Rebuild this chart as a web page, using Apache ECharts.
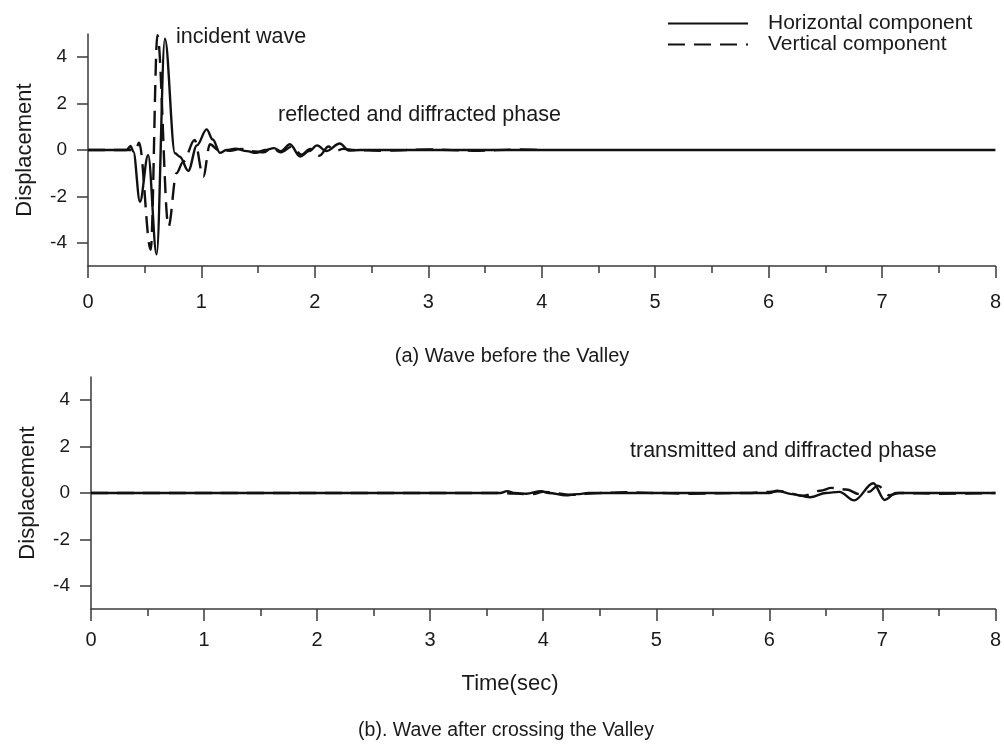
<!DOCTYPE html>
<html>
<head>
<meta charset="utf-8">
<title>Displacement records</title>
<script src="https://cdn.jsdelivr.net/npm/echarts@6/dist/echarts.min.js"></script>
<style>
  html, body { margin: 0; padding: 0; background: #fff; }
  #chart { width: 1004px; height: 747px; }
</style>
</head>
<body>
<div id="chart"></div>
<script>
// (a) record before the valley: horizontal component (solid)
const timeHa = [0, 0.34, 0.376, 0.40, 0.458, 0.53, 0.605, 0.678, 0.767, 0.81, 0.884, 0.96, 1.046, 1.10, 1.163, 1.22, 1.30, 1.40, 1.48, 1.56, 1.64, 1.70, 1.78, 1.87, 1.95, 2.02, 2.10, 2.22, 2.30, 2.40, 8];
const dispHa = [0, 0, 0.17, -0.07, -2.23, -0.22, -4.5, 4.8, -0.14, -0.29, -0.9, 0.2, 0.89, 0.45, -0.12, 0, 0.06, -0.05, -0.12, 0, 0.08, -0.05, 0.25, -0.28, -0.05, 0.2, -0.05, 0.28, -0.02, 0, 0];

// (a) record before the valley: vertical component (dashed)
const timeVa = [0, 0.42, 0.45, 0.553, 0.612, 0.71, 0.78, 0.84, 0.94, 1.016, 1.075, 1.15, 1.25, 1.35, 1.45, 1.55, 1.62, 1.70, 1.80, 1.88, 1.96, 2.04, 2.12, 2.18, 2.25, 2.35, 2.6, 3.0, 3.4, 3.8, 4.0];
const dispVa = [0, 0, 0.32, -4.3, 4.95, -3.3, -1.0, -0.5, 0.43, -1.15, 0.25, 0, -0.03, 0.05, -0.05, -0.1, 0.1, -0.1, 0.15, -0.2, 0.05, -0.25, 0.15, -0.05, 0.05, 0, -0.03, 0.02, -0.03, 0.02, 0];

// (b) record after crossing the valley: horizontal component (solid)
const timeHb = [0, 3.62, 3.68, 3.75, 3.85, 3.98, 4.05, 4.2, 4.3, 4.4, 6.0, 6.07, 6.2, 6.36, 6.5, 6.62, 6.75, 6.92, 7.02, 7.12, 7.3, 8];
const dispHb = [0, 0, 0.08, 0, -0.03, 0.08, 0, -0.1, -0.05, 0, 0, 0.1, -0.05, -0.18, 0, 0.05, -0.32, 0.42, -0.3, 0, 0, 0];

// (b) record after crossing the valley: vertical component (dashed)
const timeVb = [0, 3.6, 3.9, 4.0, 4.25, 4.5, 4.75, 5.0, 5.3, 5.8, 6.0, 6.1, 6.3, 6.45, 6.55, 6.68, 6.8, 6.88, 6.96, 7.06, 7.15, 7.5, 8];
const dispVb = [0, 0, -0.05, 0.05, -0.08, 0, 0.03, 0, -0.03, 0, 0.05, 0.08, -0.12, 0.1, 0.22, 0.15, -0.05, 0.05, 0.32, -0.1, 0, -0.03, 0];

const yTicks = [-4, -2, 0, 2, 4];
const seriesNames = ['Horizontal component', 'Vertical component'];

const FONT = '"Liberation Sans", Arial, sans-serif';
const INK = '#1a1a1a';
const AXIS = '#3a3a3a';

function pairs(ts, vs) {
  return ts.map((t, i) => [t, vs[i]]);
}

function xAxisFor(gridIndex, labelMargin) {
  return {
    type: 'value', gridIndex, min: 0, max: 8, interval: 1,
    axisLine: { show: true, onZero: false, lineStyle: { color: AXIS, width: 1.5 } },
    axisTick: { show: true, length: 12, lineStyle: { color: AXIS, width: 1.5 } },
    minorTick: { show: true, splitNumber: 2, length: 7, lineStyle: { color: AXIS, width: 1.5 } },
    splitLine: { show: false },
    minorSplitLine: { show: false },
    axisLabel: { margin: labelMargin, fontSize: 20, color: INK, fontFamily: FONT }
  };
}

function yAxisFor(gridIndex) {
  return {
    type: 'value', gridIndex, min: -5, max: 5,
    name: 'Displacement', nameLocation: 'middle', nameRotate: 90, nameGap: 52,
    nameTextStyle: { fontSize: 22, color: INK, fontFamily: FONT },
    axisLine: { show: true, onZero: false, lineStyle: { color: AXIS, width: 1.5 } },
    axisTick: { show: true, length: 11, customValues: yTicks, lineStyle: { color: AXIS, width: 1.5 } },
    splitLine: { show: false },
    axisLabel: { margin: 21, fontSize: 19, color: INK, fontFamily: FONT, customValues: yTicks }
  };
}

function lineSeries(name, idx, data, dashed) {
  return {
    name, type: 'line', xAxisIndex: idx, yAxisIndex: idx,
    data, showSymbol: false, symbol: 'none',
    smooth: 0.35, smoothMonotone: 'x',
    lineStyle: { color: '#111', width: 2.4, type: dashed ? [17, 9] : 'solid' },
    itemStyle: { color: '#111' },
    animation: false, silent: true, z: dashed ? 3 : 2
  };
}

const chart = echarts.init(document.getElementById('chart'), null, { renderer: 'canvas' });

chart.setOption({
  backgroundColor: '#ffffff',
  animation: false,
  textStyle: { fontFamily: FONT },
  legend: {
    orient: 'vertical', left: 667, top: 13, padding: 0,
    itemWidth: 80, itemHeight: 14, itemGap: 0,
    // keep the line sample only, hide the marker drawn in its middle
    itemStyle: { opacity: 0, borderWidth: 0 },
    lineStyle: { width: 2 },
    data: seriesNames,
    textStyle: { fontSize: 21, lineHeight: 21, color: INK, fontFamily: FONT, padding: [0, 0, 0, 15] }
  },
  grid: [
    { left: 88, top: 34, width: 908, height: 232 },
    { left: 91, top: 377, width: 908, height: 232 }
  ],
  xAxis: [xAxisFor(0, 26), xAxisFor(1, 21)],
  yAxis: [yAxisFor(0), yAxisFor(1)],
  series: [
    lineSeries(seriesNames[0], 0, pairs(timeHa, dispHa), false),
    lineSeries(seriesNames[1], 0, pairs(timeVa, dispVa), true),
    lineSeries(seriesNames[0], 1, pairs(timeHb, dispHb), false),
    lineSeries(seriesNames[1], 1, pairs(timeVb, dispVb), true)
  ],
  graphic: [
    { type: 'text', left: 176, top: 26, style: { text: 'incident wave', font: '21.5px ' + FONT, fill: INK } },
    { type: 'text', left: 278, top: 104, style: { text: 'reflected and diffracted phase', font: '21.5px ' + FONT, fill: INK } },
    { type: 'text', left: 630, top: 440, style: { text: 'transmitted and diffracted phase', font: '21.5px ' + FONT, fill: INK } },
    { type: 'text', x: 512, y: 356, style: { text: '(a) Wave before the Valley', font: '20px ' + FONT, fill: INK, align: 'center', verticalAlign: 'middle' } },
    { type: 'text', x: 510, y: 684, style: { text: 'Time(sec)', font: '22px ' + FONT, fill: INK, align: 'center', verticalAlign: 'middle' } },
    { type: 'text', x: 506, y: 731, style: { text: '(b). Wave after crossing the Valley', font: '19.5px ' + FONT, fill: INK, align: 'center', verticalAlign: 'middle' } }
  ]
});
</script>
</body>
</html>
